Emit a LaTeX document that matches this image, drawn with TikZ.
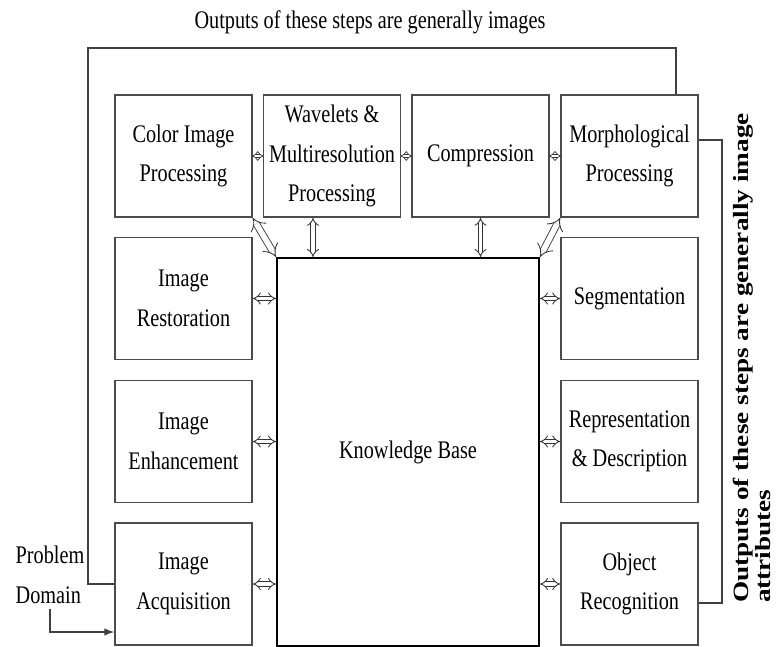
\documentclass[tikz,border=0pt]{standalone}
\usepackage{fontspec}
\setmainfont{Liberation Serif}[FakeStretch=0.8]
\newfontfamily\sidefont{Liberation Serif}[FakeStretch=1.25]
\usetikzlibrary{arrows.meta}

\tikzset{
  stage/.style={draw=black!70, line width=1pt, minimum width=3.425cm,
    minimum height=3.05cm, align=center, inner sep=1pt,
    font=\fontsize{18}{28}\selectfont},
  link/.style={draw=black!75, line width=0.8pt},
  dbl/.style={draw=black!80, double, double distance=2.4pt,
    line width=0.6pt, {Implies}-{Implies}},
  tightdbl/.style={dbl, double distance=1.8pt, line width=0.5pt,
    shorten <=-0.6pt, shorten >=-0.6pt},
}

\begin{document}
\begin{tikzpicture}[x=0.025cm, y=-0.025cm]
  \useasboundingbox (0,0) rectangle (777,646);

  % Top row
  \node[stage] (color) at (183.5,156) {Color Image\\Processing};
  \node[stage] (wave)  at (332,156)   {Wavelets \&\\Multiresolution\\Processing};
  \node[stage] (comp)  at (480.5,156) {Compression};
  \node[stage] (morph) at (629.5,156) {Morphological\\Processing};
  % Left column
  \node[stage] (rest) at (183.5,298.5) {Image\\Restoration};
  \node[stage] (enh)  at (183.5,441.5) {Image\\Enhancement};
  \node[stage] (acq)  at (183.5,584)   {Image\\Acquisition};
  % Right column
  \node[stage] (seg) at (629.5,298.5) {Segmentation};
  \node[stage] (rep) at (629.5,441.5) {Representation\\\& Description};
  \node[stage] (obj) at (629.5,584)   {Object\\Recognition};

  % Knowledge base
  \node[stage, draw=black, line width=1.3pt, minimum width=6.55cm,
    minimum height=9.7cm] (kb) at (408,452) {Knowledge Base};

  % Labels
  \node[font=\fontsize{18}{28}\selectfont] (toplabel) at (370,22)
    {Outputs of these steps are generally images};
  \node[font=\fontsize{18}{28}\selectfont, align=left] (prob) at (50,575)
    {Problem\\Domain};
  \node[font=\sidefont\bfseries\fontsize{15.5}{16}\selectfont, rotate=90,
    align=left, inner sep=0pt] (sidelabel) at (752,358)
    {Outputs of these steps are generally image\\attributes};

  % Feedback lines
  \coordinate (topL) at (88,48);
  \coordinate (topR) at (676,48);
  \draw[link] (topR |- morph.north) -- (topR) -- (topL) -- (topL |- acq.west)
    -- (acq.west);
  \coordinate (sideT) at (722,140);
  \coordinate (sideB) at (722,603);
  \draw[link] (morph.east |- sideT) -- (sideT) -- (sideB) -- (obj.east |- sideB);
  \coordinate (pdcorner) at (50,632);
  \draw[link, -{Latex[length=7pt]}] (prob.south) |- (acq.west |- pdcorner);

  % Double arrows
  \draw[tightdbl] (color.east) -- (wave.west);
  \draw[tightdbl] (wave.east) -- (comp.west);
  \draw[tightdbl] (comp.east) -- (morph.west);
  \coordinate (wavefoot) at ([xshift=-0.475cm]wave.south);
  \draw[dbl] (wavefoot) -- (wavefoot |- kb.north);
  \draw[dbl] (comp.south) -- (comp.south |- kb.north);
  \draw[dbl, double distance=4pt] (color.south east) -- (kb.north west);
  \draw[dbl, double distance=4pt] (morph.south west) -- (kb.north east);
  \foreach \s in {rest, enh, acq}
    \draw[dbl] (\s.east) -- (\s.east -| kb.west);
  \foreach \s in {seg, rep, obj}
    \draw[dbl] (\s.west) -- (\s.west -| kb.east);
\end{tikzpicture}
\end{document}
